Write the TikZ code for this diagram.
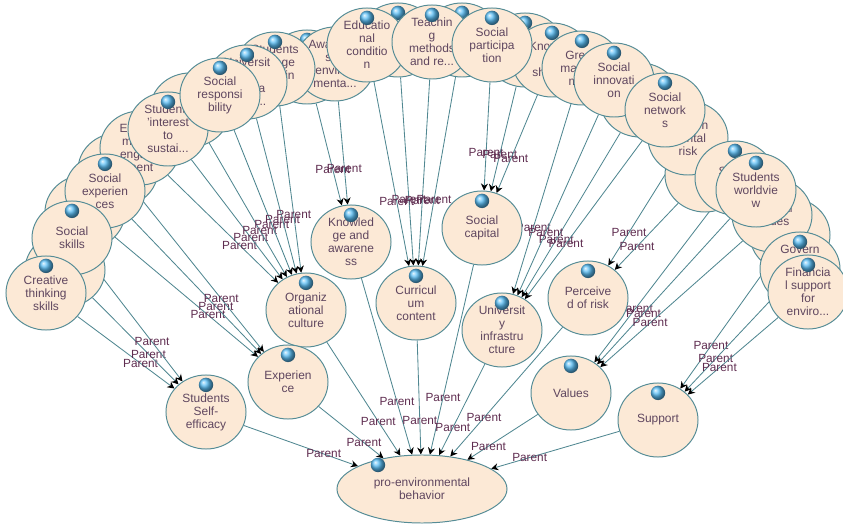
\documentclass[tikz,border=0pt]{standalone}
\usepackage{fontspec}
\setmainfont{Liberation Sans}
\usetikzlibrary{shapes.geometric,arrows.meta}
\definecolor{nodefill}{RGB}{252,233,214}
\definecolor{nodeline}{RGB}{85,140,150}
\definecolor{linkc}{RGB}{80,135,145}
\definecolor{textc}{RGB}{95,70,95}
\definecolor{parentc}{RGB}{95,45,80}
\definecolor{ballc}{RGB}{90,190,245}
\pgfdeclarelayer{background}
\pgfsetlayers{background,main}
\tikzset{bead/.style={circle,shade,ball color=ballc,minimum size=0.36cm,inner sep=0pt}}
\tikzset{var/.style={ellipse,draw=nodeline,fill=nodefill,line width=0.7pt,
    minimum width=2cm,minimum height=1.85cm,inner sep=0pt,align=center,
    text=textc,font=\fontsize{8.5}{9.3}\selectfont,
    append after command={\pgfextra{\let\mainnode=\tikzlastnode}
        node[bead] at ([yshift=-0.26cm]\mainnode.north) {}}}}
\tikzset{goal/.style={ellipse,draw=nodeline,fill=nodefill,line width=0.7pt,
    minimum width=4.25cm,minimum height=1.7cm,inner sep=0pt,align=center,
    text=textc,font=\fontsize{8.5}{9.3}\selectfont,
    append after command={\pgfextra{\let\mainnode=\tikzlastnode}
        node[bead] at ([xshift=-1.1cm,yshift=0.6cm]\mainnode.center) {}}}}
\tikzset{link/.style={draw=linkc,line width=0.6pt,-{Stealth[length=5pt,width=5pt,color=black]}}}
\tikzset{plabel/.style={text=parentc,font=\fontsize{8.4}{9}\selectfont,inner sep=1pt}}

\begin{document}
\begin{tikzpicture}[x=0.025cm,y=-0.025cm]
            \useasboundingbox (0,0) rectangle (843,524);
            % back row of the arc
            \node[var] (h1) at (65,270) {};
            \node[var] (h2) at (85,212) {};
            \node[var] (h3) at (118,170) {};
            \node[var] (h4) at (190,110) {};
            \node[var] (h5) at (307,67) {};
            \node[var] (h6) at (398,40) {};
            \node[var] (h7) at (462,40) {};
            \node[var] (h8) at (525,50) {};
            \node[var] (h9) at (640,100) {};
            \node[var] (h10) at (705,175) {};
            \node[var] (h11) at (790,235) {};
            % middle row of the arc
            \node[var] (aw) at (335,64) {Awarenes\\s of\\environ\\menta...};
            \node[var] (ks) at (552,60) {Knowled\\ge\\sharing};
            \node[var] (gm) at (582,68) {Green\\manage\\ment};
            \node[var] (rk) at (688,138) {Environ\\mental\\risk};
            \node[var] (so) at (735,178) {Social\\media};
            \node[var] (cv) at (772,215) {Cultural\\values};
            \node[var] (gv) at (800,269) {Govern\\ment\\support\\s};
            \node[var] (ee) at (140,148) {Environ\\mental\\engage\\ment};
            % front row of the arc
            \node[var] (sx) at (105,191) {Social\\experien\\ces};
            \node[var] (ss) at (72,238) {Social\\skills};
            \node[var] (cr) at (46,293) {Creative\\thinking\\skills};
            \node[var] (si) at (168,129) {Students\\'interest\\to\\sustai...};
            \node[var] (sg) at (275,69) {Students\\engage\\ment in\\...};
            \node[var] (un) at (247,82) {Universit\\y\\interna\\tional...};
            \node[var] (sr) at (220,95) {Social\\responsi\\bility};
            \node[var] (ed) at (367,45) {Educatio\\nal\\conditio\\n};
            \node[var] (tm) at (432,42) {Teachin\\g\\methods\\and re...};
            \node[var] (sp) at (492,45) {Social\\participa\\tion};
            \node[var] (sn) at (614,80) {Social\\innovati\\on};
            \node[var] (nw) at (665,110) {Social\\network\\s};
            \node[var] (wv) at (756,190) {Students\\worldvie\\w};
            \node[var] (fs) at (808,292) {Financia\\l support\\for\\enviro...};
            % inner factors
            \node[var] (ka) at (351,242) {Knowled\\ge and\\awarene\\ss};
            \node[var] (sc) at (482,228) {Social\\capital};
            \node[var] (oc) at (306,310) {Organiz\\ational\\culture};
            \node[var] (cc) at (416,303) {Curricul\\um\\content};
            \node[var] (ui) at (502,330) {Universit\\y\\infrastru\\cture};
            \node[var] (pr) at (588,298) {Perceive\\d of risk};
            \node[var] (ex) at (288,382) {Experien\\ce};
            \node[var] (se) at (206,412) {Students\\Self-\\efficacy};
            \node[var] (va) at (571,393) {Values};
            \node[var] (su) at (658,420) {Support};
            \node[goal] (pe) at (422,489) {pro-environmental\\behavior};
            % draw the links
            \begin{pgfonlayer}{background}
            \foreach \s/\t in {cr/se,h1/se,ss/se,h2/ex,sx/ex,h3/ex,ee/oc,si/oc,h4/oc,sr/oc,un/oc,sg/oc,
                h5/ka,aw/ka,ed/cc,h6/cc,tm/cc,h7/cc,sp/sc,h8/sc,ks/sc,gm/ui,h9/ui,sn/ui,nw/ui,
                rk/pr,h10/pr,so/va,wv/va,cv/va,h11/su,gv/su,fs/su}
                \draw[link] (\s) -- (\t) node[plabel,pos=0.65] {Parent};
            \foreach \s in {se,ex,oc,ka,cc,sc,ui,pr,va,su}
                \draw[link] (\s) -- (pe) node[plabel,pos=0.7] {Parent};
            \end{pgfonlayer}
        \end{tikzpicture}
\end{document}
